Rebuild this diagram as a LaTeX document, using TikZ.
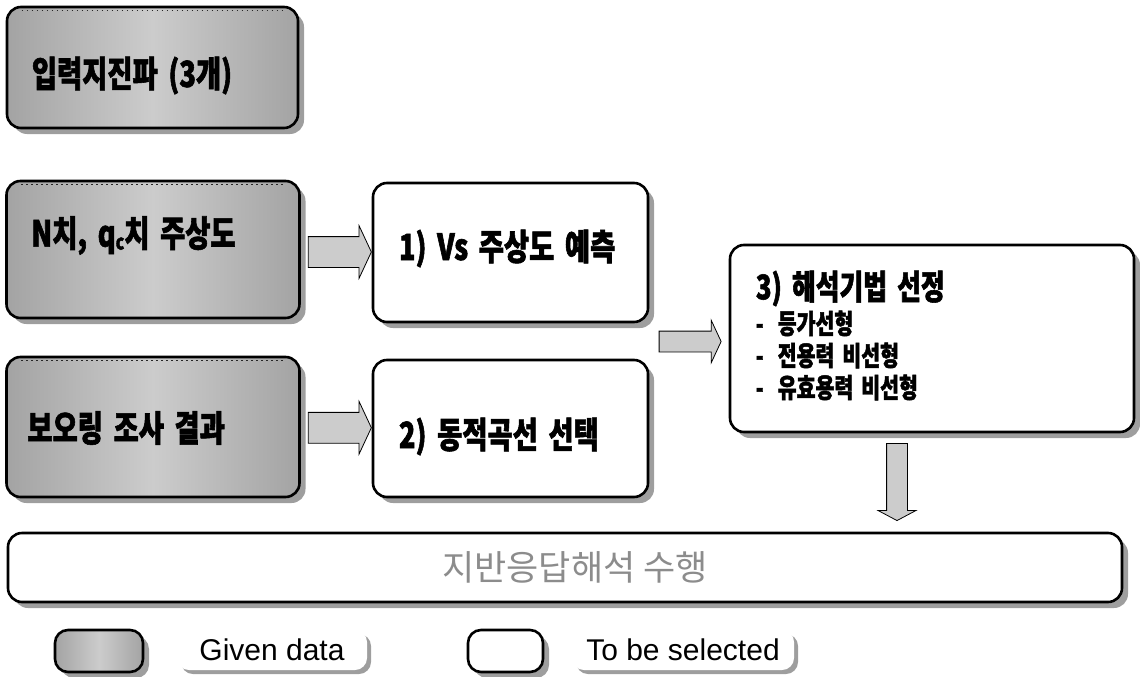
\documentclass[tikz,border=0pt]{standalone}
\usepackage{fontspec}
\setmainfont{Liberation Sans}
\newfontfamily\krb{Noto Sans CJK KR}[FakeStretch=0.76, FakeBold=1.6, WordSpace=1.7]
\newfontfamily\krr{Noto Sans CJK KR}
\usetikzlibrary{shapes.arrows,shadows,calc}
\definecolor{gdark}{gray}{0.64}
\definecolor{glight}{gray}{0.80}
\definecolor{shadowgray}{gray}{0.62}
\definecolor{arrowgray}{gray}{0.80}
\definecolor{txtgray}{gray}{0.55}
\tikzset{
  boxshadow/.style={drop shadow={shadow xshift=6pt, shadow yshift=-6pt, fill=shadowgray, opacity=1}},
  givenbox/.style={draw=black, line width=2.6pt, rounded corners=14pt, left color=gdark, right color=gdark, middle color=glight, boxshadow, inner sep=0pt},
  selbox/.style={draw=black, line width=2.6pt, rounded corners=14pt, fill=white, boxshadow, inner sep=0pt},
  labbox/.style={fill=white, rounded corners=12pt, inner sep=0pt, drop shadow={shadow xshift=4pt, shadow yshift=-4pt, fill=shadowgray, opacity=1}, font=\fontsize{30}{34}\selectfont},
  blockarrow/.style={single arrow, draw=black, line width=0.8pt, fill=arrowgray, inner xsep=0pt, single arrow head indent=0pt},
  bigtxt/.style={font=\krb\bfseries\fontsize{36}{40}\selectfont, anchor=west, inner sep=0pt},
  midtxt/.style={font=\krb\bfseries\fontsize{34}{38}\selectfont, anchor=west, inner sep=0pt},
  smalltxt/.style={font=\krb\bfseries\fontsize{27}{32}\selectfont, anchor=north west, inner sep=0pt, align=left},
  topdots/.style={line width=1.4pt, draw=gray!30!black, dash pattern=on 1.5pt off 3.5pt},
}
\begin{document}
\begin{tikzpicture}[x=1pt, y=-1pt]
\useasboundingbox (0,0) rectangle (1140,677);
% given data boxes
\node[givenbox, minimum width=291pt, minimum height=121pt] (A) at (152.5,67.5) {};
\node[givenbox, minimum width=293pt, minimum height=137pt] (B) at (153,249.5) {};
\node[givenbox, minimum width=293pt, minimum height=140pt] (C) at (153,427) {};
\foreach \n in {A,B,C}{
  \draw[topdots] ($(\n.north west)+(16,5)$) -- ($(\n.north east)+(-16,5)$);
}
% selected boxes
\node[selbox, minimum width=275pt, minimum height=139pt] (V1) at (510.5,252.5) {};
\node[selbox, minimum width=275pt, minimum height=137pt] (V2) at (510.5,428.5) {};
\node[selbox, minimum width=404pt, minimum height=187pt] (V3) at (932,338.5) {};
\node[selbox, minimum width=1114pt, minimum height=69pt] (R) at (565,567.5) {};
% texts
\node[bigtxt] (tA) at ($(A.west)+(26,8)$) {입력지진파 (3개)};
\node[bigtxt] (tB) at ($(B.west)+(26,-14)$) {N치, q\raisebox{-3pt}{\fontsize{21}{21}\selectfont c}치 주상도};
\node[bigtxt] (tC) at ($(C.west)+(22,1)$) {보오링 조사 결과};
\node[bigtxt] (t1) at ($(V1.west)+(27,-4)$) {1) Vs 주상도 예측};
\node[bigtxt] (t2) at ($(V2.west)+(27,8)$) {2) 동적곡선 선택};
\node[midtxt] (t3) at ($(V3.west)+(27,-50)$) {3) 해석기법 선정};
\node[smalltxt] (t3i) at ($(V3.west)+(27,-28)$) {-\hspace{14pt}등가선형\\-\hspace{14pt}전용력 비선형\\-\hspace{14pt}유효용력 비선형};
\node[font=\krr\fontsize{35}{38}\selectfont, text=txtgray, inner sep=0pt] (tR) at ($(R.center)+(10,0)$) {지반응답해석 수행};
% block arrows
\node[blockarrow, minimum height=63pt, inner ysep=15pt, single arrow head extend=11pt, single arrow tip angle=130] (a1) at ($(B.east)!0.5!(V1.west)+(0,1)$) {};
\node[blockarrow, minimum height=63pt, inner ysep=15pt, single arrow head extend=11pt, single arrow tip angle=130] (a2) at ($(C.east)!0.5!(V2.west)$) {};
\node[blockarrow, minimum height=62pt, inner ysep=10pt, single arrow head extend=11pt, single arrow tip angle=130] (a3) at ($(V3.west)+(-41,3)$) {};
\node[blockarrow, minimum height=77pt, inner ysep=10pt, single arrow head extend=8.5pt, single arrow tip angle=124, rotate=-90] (a4) at ($(V3.south)+(-35,46)$) {};
% legend
\node[givenbox, rounded corners=13pt, minimum width=88pt, minimum height=42pt, drop shadow={shadow xshift=4pt, shadow yshift=-4pt, fill=shadowgray, opacity=1}] (LG) at (99,651) {};
\node[labbox, minimum width=190pt, minimum height=40pt] (LGt) at (272,650) {Given data};
\node[selbox, rounded corners=13pt, minimum width=75pt, minimum height=42pt, drop shadow={shadow xshift=4pt, shadow yshift=-4pt, fill=shadowgray, opacity=1}] (LS) at (505.5,651) {};
\node[labbox, minimum width=222pt, minimum height=40pt] (LSt) at (683,650) {To be selected};
\end{tikzpicture}
\end{document}
